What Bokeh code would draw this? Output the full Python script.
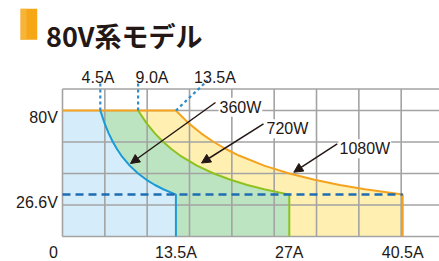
from bokeh.plotting import figure
from bokeh.models import Range1d, Arrow, NormalHead
from bokeh.embed import file_html
from bokeh.resources import INLINE
from bokeh.core.properties import value

# ---------------- data ----------------
title_text = "80V系モデル"
power_labels = ["360W", "720W", "1080W"]
v_max = 80
v_min = 26.6

cur_360 = [4.5, 5.0, 5.5, 6.0, 6.5, 7.0, 8.0, 9.0, 10.0, 11.0, 12.0, 13.5]
volt_360 = [80, 72, 65.5, 60, 55.4, 51.4, 45, 40, 36, 32.7, 30, 26.6]
cur_720 = [9.0, 10.0, 11.0, 12.0, 13.0, 14.0, 16.0, 18.0, 20.0, 22.0, 24.0, 27.0]
volt_720 = [80, 72, 65.5, 60, 55.4, 51.4, 45, 40, 36, 32.7, 30, 26.6]
cur_1080 = [13.5, 15.0, 16.5, 18.0, 19.5, 21.0, 24.0, 27.0, 30.0, 33.0, 36.0, 40.5]
volt_1080 = [80, 72, 65.5, 60, 55.4, 51.4, 45, 40, 36, 32.7, 30, 26.6]

knee_currents = [4.5, 9.0, 13.5]
knee_labels = ["4.5A", "9.0A", "13.5A"]
x_ticks = [13.5, 27, 40.5]
x_tick_labels = ["13.5A", "27A", "40.5A"]
y_ticks = [26.6, 80]
y_tick_labels = ["26.6V", "80V"]
y_grid = [0, 20, 40, 60, 80]

# ---------------- layout helpers (picture pixels -> data) ----------------
SX, X0PX = 8.4, 62.0
SY, Y0PX = 1.575, 236.0
W, H = 439, 261


def dx(px):
    return (px - X0PX) / SX


def dy(py):
    return (Y0PX - py) / SY


TEXT = "#231815"
FONT = value("Liberation Sans")
GRID = "#A3A3A3"

p = figure(width=W, height=H, output_backend="svg", toolbar_location=None,
           x_range=Range1d(dx(0), dx(W)), y_range=Range1d(dy(H), dy(0)),
           x_axis_location=None, y_axis_location=None, min_border=0)
p.min_border_left = p.min_border_right = p.min_border_top = p.min_border_bottom = 0
p.grid.visible = False
p.outline_line_color = None
p.background_fill_color = "white"
p.border_fill_color = "white"

# ---------------- fills ----------------
p.patch([0, 0] + cur_1080 + [cur_1080[-1]], [0, v_max] + volt_1080 + [0],
        fill_color="#FFF0B2", line_color=None)
p.patch([0, 0] + cur_720 + [cur_720[-1]], [0, v_max] + volt_720 + [0],
        fill_color="#BDE4C1", line_color=None)
p.patch([0, 0] + cur_360 + [cur_360[-1]], [0, v_max] + volt_360 + [0],
        fill_color="#D5EDFA", line_color=None)

# ---------------- grid ----------------
top = dy(88.5)
right = dx(445)
step = 5.04
gx = [k * step for k in range(9)]
p.segment(x0=gx, y0=[0] * len(gx), x1=gx, y1=[top] * len(gx),
          line_color=GRID, line_width=1.6)
hy = y_grid + [top]
p.segment(x0=[0] * len(hy), y0=hy, x1=[right] * len(hy), y1=hy,
          line_color=GRID, line_width=1.6)

# ---------------- curves ----------------
p.line([0] + cur_1080 + [cur_1080[-1]], [v_max] + volt_1080 + [0],
       line_color="#F5A21E", line_width=2)
p.line(cur_720 + [cur_720[-1]], volt_720 + [0], line_color="#8CC220", line_width=2)
p.line(cur_360 + [cur_360[-1]], volt_360 + [0], line_color="#1A9AD6", line_width=2)

# dashed 26.6V line
p.line([0, x_ticks[-1]], [v_min, v_min], line_color="#1F6CB3", line_width=2.5,
       line_dash="8 5")

# dotted leaders to knee labels
lead_x1 = [knee_currents[0], knee_currents[1], dx(207)]
lead_y1 = [dy(82), dy(82), dy(80)]
p.segment(x0=knee_currents, y0=[v_max] * 3, x1=lead_x1, y1=lead_y1,
          line_color="#2E8BCB", line_width=2.2, line_dash="3 3")

# ---------------- arrows ----------------
arrow_start = [(215, 102), (263, 123.3), (336.7, 143.3)]
arrow_tip = [(130, 163), (201, 162.5), (293.3, 171.7)]
for (sx, sy), (ex, ey) in zip(arrow_start, arrow_tip):
    p.add_layout(Arrow(x_start=dx(sx), y_start=dy(sy), x_end=dx(ex), y_end=dy(ey),
                       line_color=TEXT, line_width=1.5,
                       end=NormalHead(size=9, fill_color=TEXT, line_color=TEXT,
                                      line_width=1)))

# ---------------- texts ----------------
p.text(x=[dx(218), dx(265), dx(338)], y=[dy(106.7), dy(128.3), dy(148.3)],
       text=power_labels, text_font=FONT, text_font_size="16px", text_color=TEXT,
       text_align="left", text_baseline="alphabetic",
       background_fill_color="white", padding=1)

p.text(x=[dx(97.5), dx(151.5), dx(214.5)], y=[dy(77.3)] * 3, text=knee_labels,
       text_font=FONT, text_font_size="16px", text_color=TEXT,
       text_align="center", text_baseline="alphabetic")

p.text(x=x_ticks, y=[dy(251.7)] * 3, text=x_tick_labels, text_font=FONT,
       text_font_size="16px", text_color=TEXT, text_align="center",
       text_baseline="alphabetic")

p.text(x=[dx(57.3)] * 2, y=[dy(201.7), dy(116.7)], text=y_tick_labels, text_font=FONT,
       text_font_size="16px", text_color=TEXT, text_align="right",
       text_baseline="alphabetic")
p.text(x=[dx(57.3)], y=[dy(251.7)], text=["0"], text_font=FONT,
       text_font_size="16px", text_color=TEXT, text_align="right",
       text_baseline="alphabetic")

# title
p.quad(left=[dx(20)], right=[dx(36.7)], top=[dy(8.3)], bottom=[dy(39.3)],
       fill_color="#F6A716", line_color=None)
p.quad(left=[dx(20)], right=[dx(26)], top=[dy(8.3)], bottom=[dy(39.3)],
       fill_color="#F8BC52", line_color=None, fill_alpha=0.6)
p.text(x=[dx(45.5)], y=[dy(34.5)], text=[title_text],
       text_font=value("Noto Sans CJK JP"), text_font_style="bold",
       text_font_size="27px", text_color=TEXT, text_align="left",
       text_baseline="alphabetic")

open("out.html", "w").write(file_html(p, INLINE))
